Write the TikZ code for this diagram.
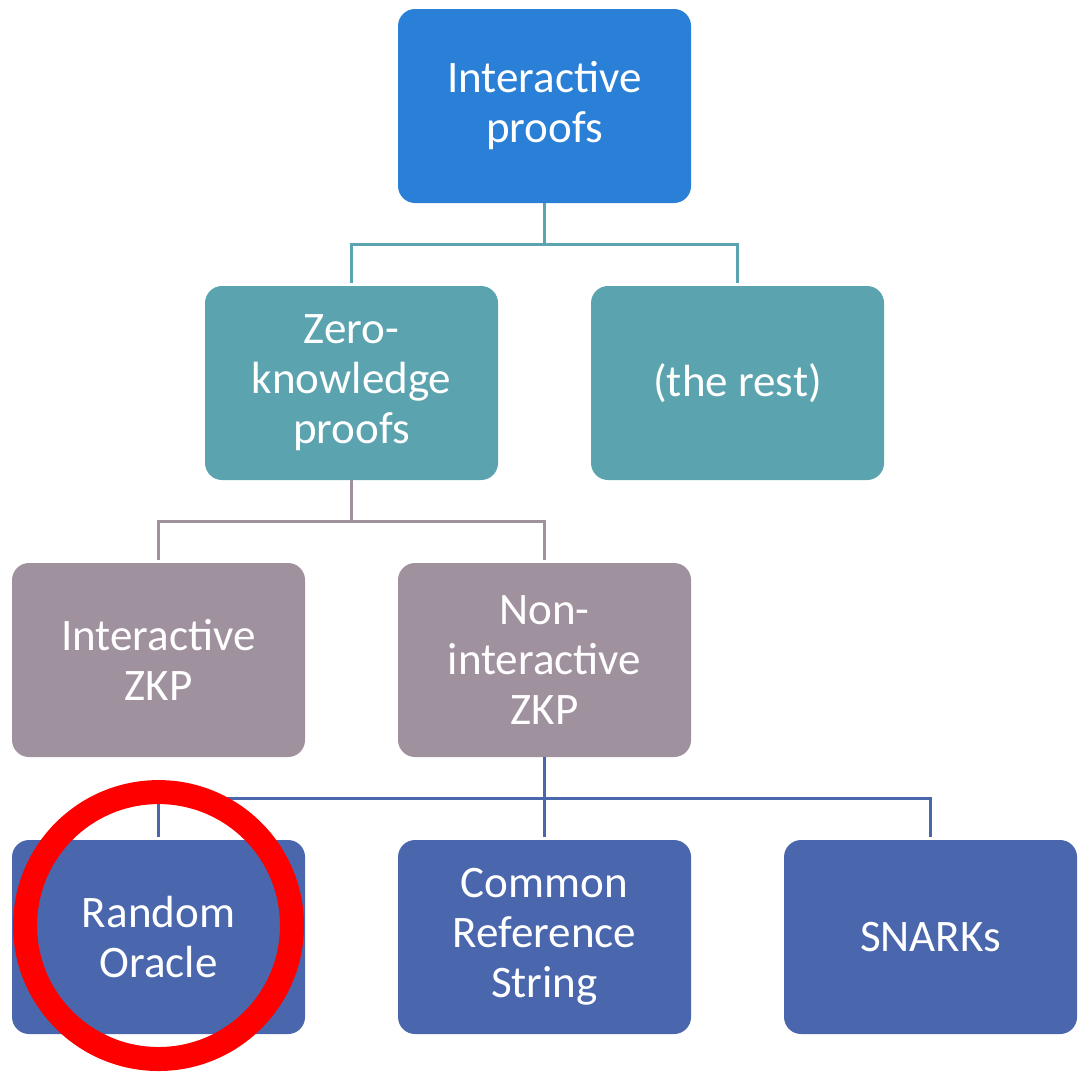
\documentclass[tikz,border=0pt]{standalone}
\usepackage{fontspec}
\setmainfont{Carlito}
\definecolor{proofblue}{HTML}{2A7FD6}
\definecolor{zkteal}{HTML}{5BA3AF}
\definecolor{zkmauve}{HTML}{A0919F}
\definecolor{nizkblue}{HTML}{4A67AD}
\begin{document}
\begin{tikzpicture}[level distance=207.75pt,sibling distance=289.5pt,
    edge from parent path={(\tikzparentnode.south) -- ++(0,-30.75pt) -| (\tikzchildnode.north)},
    level 1/.style={every child node/.style={fill=zkteal},
        edge from parent/.style={draw=zkteal,line width=2.25pt,shorten >=2pt}},
    level 2/.style={every child node/.style={fill=zkmauve},
        edge from parent/.style={draw=zkmauve,line width=2.25pt,shorten >=2pt}},
    level 3/.style={every child node/.style={fill=nizkblue},
        edge from parent/.style={draw=nizkblue,line width=2.25pt,shorten >=2pt}}]
\tikzset{every node/.style={rounded corners=12.75pt,minimum width=219.75pt,
                            minimum height=145.5pt,text=white,align=center,
                            font=\fontsize{33.8}{37.5}\selectfont}}
\useasboundingbox (0,0) rectangle (810pt,-804pt);
\node[fill=proofblue] (ip) at (408.4pt,-79.5pt) {Interactive\\proofs}
    child {node (zkp) {Zero-\\knowledge\\proofs}
        child {node (izkp) {Interactive\\ZKP}}
        child {node (nizkp) {Non-\\interactive\\ZKP}
            child {node (ro) {Random\\Oracle}}
            child {node (crs) {Common\\Reference\\String}}
            child {node (snarks) {SNARKs}}
        }
    }
    child {node (rest) {(the rest)}
    }
    ;
% highlight
\draw[red,line width=18pt] ([yshift=8.6pt]ro.center) circle (100.1pt);
\end{tikzpicture}
\end{document}
